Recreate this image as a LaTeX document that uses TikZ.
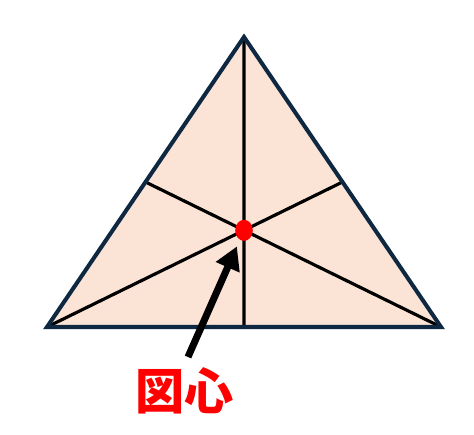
\documentclass[tikz,border=0pt]{standalone}
\usepackage{fontspec}
\newfontfamily\cjk{Noto Sans CJK JP}
\usetikzlibrary{calc,arrows.meta,shapes.geometric}
\definecolor{peach}{HTML}{FBE3D6}
\definecolor{navy}{HTML}{0E2841}
\definecolor{cred}{HTML}{FF0000}

\begin{document}
\begin{tikzpicture}[x=0.02cm,y=-0.02cm]
  \useasboundingbox (0,0) rectangle (474,435);
  \coordinate (A) at (244,37);
  \coordinate (B) at (47,327);
  \coordinate (C) at (441,327);

  % Midpoints of the sides
  \coordinate (Mbc) at ($(B)!0.5!(C)$);
  \coordinate (Mca) at ($(C)!0.5!(A)$);
  \coordinate (Mab) at ($(A)!0.5!(B)$);

  % Centroid
  \coordinate (G) at ($1/3*(A)+1/3*(B)+1/3*(C)$);

  % Triangle
  \fill[peach] (A) -- (B) -- (C) -- cycle;

  % Medians
  \draw[line width=1.8pt] (A) -- (Mbc);
  \draw[line width=1.8pt] (B) -- (Mca);
  \draw[line width=1.8pt] (C) -- (Mab);

  \draw[navy, line width=2.3pt, line join=miter] (A) -- (B) -- (C) -- cycle;

  \node[fill=cred, ellipse, inner sep=0pt, minimum width=10pt, minimum height=12pt] (dot) at (G) {};

  % Label and arrow
  \node[cred, font=\cjk\bfseries\fontsize{28}{30}\selectfont] (label) at (185,391) {図心};
  \coordinate (tail) at (188,357);
  \draw[line width=4pt, -{Triangle[length=13pt,width=14pt]}, shorten >=4pt] (tail) -- (dot);
\end{tikzpicture}
\end{document}
